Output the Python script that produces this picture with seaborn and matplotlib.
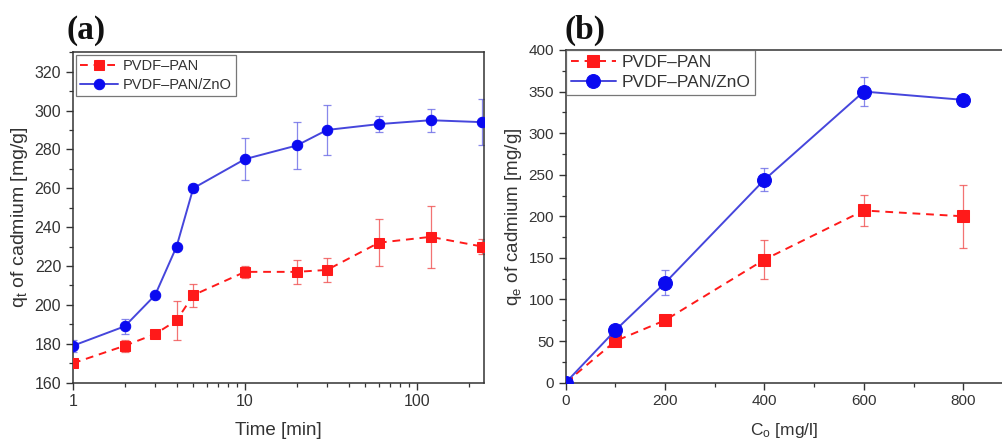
import numpy as np
import pandas as pd
import matplotlib
matplotlib.use("Agg")
import matplotlib.pyplot as plt
from matplotlib.ticker import MultipleLocator, FixedLocator, NullFormatter
import seaborn as sns

# (a) kinetics: adsorbed cadmium vs contact time
time_min = [1, 2, 3, 4, 5, 10, 20, 30, 60, 120, 240]
qt_pan = [170, 179, 185, 192, 205, 217, 217, 218, 232, 235, 230]
qt_pan_err = [1.5, 3, 2, 10, 6, 3, 6, 6, 12, 16, 4]
qt_zno = [179, 189, 205, 230, 260, 275, 282, 290, 293, 295, 294]
qt_zno_err = [3, 4, 1.5, 1.5, 2, 11, 12, 13, 4, 6, 12]

# (b) isotherm: adsorbed cadmium vs initial concentration
conc = [0, 100, 200, 400, 600, 800]
qe_pan = [0, 50, 75, 148, 207, 200]
qe_pan_err = [0, 2, 3, 23, 19, 38]
qe_zno = [0, 63, 120, 244, 350, 340]
qe_zno_err = [0, 3, 15, 14, 17, 6]

series_names = ["PVDF\u2013PAN", "PVDF\u2013PAN/ZnO"]

sns.set_theme(style="ticks")
plt.rcParams["font.family"] = ["Liberation Sans", "DejaVu Sans"]
plt.rcParams["mathtext.fontset"] = "custom"
plt.rcParams["mathtext.rm"] = "Liberation Sans"
plt.rcParams["mathtext.it"] = "Liberation Sans"

RED = "#ff1a1a"
BLUE = "#0a0af0"
BLUE_LINE = "#4646dc"
INK = "#333333"

df_a = pd.DataFrame({
    "x": time_min * 2,
    "q": qt_pan + qt_zno,
    "err": qt_pan_err + qt_zno_err,
    "series": [series_names[0]] * len(time_min) + [series_names[1]] * len(time_min),
})
df_b = pd.DataFrame({
    "x": conc * 2,
    "q": qe_pan + qe_zno,
    "err": qe_pan_err + qe_zno_err,
    "series": [series_names[0]] * len(conc) + [series_names[1]] * len(conc),
})

fig = plt.figure(figsize=(10.03, 4.46), dpi=100)
ax_a = fig.add_axes([0.0728, 0.142, 0.4097, 0.741])
ax_b = fig.add_axes([0.564, 0.142, 0.436, 0.746])


def draw_panel(ax, df, msq, mci, lw):
    styles = {
        series_names[0]: dict(color=RED, lcolor=RED, ls=(0, (4, 3)), marker="s", ms=msq, ecol="#f05050"),
        series_names[1]: dict(color=BLUE, lcolor=BLUE_LINE, ls="-", marker="o", ms=mci, ecol="#6a6ae6"),
    }
    for name in series_names:
        st = styles[name]
        sub = df[df["series"] == name]
        ax.errorbar(sub["x"], sub["q"], yerr=sub["err"], fmt="none",
                    ecolor=st["ecol"], elinewidth=0.9, capsize=3, capthick=0.9,
                    alpha=0.8, zorder=2)
        sns.lineplot(data=sub, x="x", y="q", ax=ax, color=st["lcolor"],
                     linestyle=st["ls"], linewidth=lw, marker=st["marker"],
                     markersize=st["ms"], markerfacecolor=st["color"],
                     markeredgecolor=st["color"], label=name, zorder=3,
                     errorbar=None, sort=False)


draw_panel(ax_a, df_a, 7, 7.5, 1.4)
draw_panel(ax_b, df_b, 9, 10, 1.4)

# panel (a) axes
ax_a.set_xscale("log")
ax_a.set_xlim(1, 245)
ax_a.set_ylim(160, 330)
ax_a.yaxis.set_major_locator(MultipleLocator(20))
ax_a.yaxis.set_minor_locator(MultipleLocator(10))
ax_a.set_xticks([1, 10, 100])
ax_a.set_xticklabels(["1", "10", "100"])
minor_a = [m * d for d in (1, 10, 100) for m in range(2, 10) if m * d <= 245]
ax_a.xaxis.set_minor_locator(FixedLocator(minor_a))
ax_a.xaxis.set_minor_formatter(NullFormatter())
ax_a.set_xlabel("Time [min]", fontsize=13.5, labelpad=9)
ax_a.set_ylabel("q$_{t}$ of cadmium [mg/g]", fontsize=14, labelpad=3)

# panel (b) axes
ax_b.set_xlim(0, 880)
ax_b.set_ylim(0, 400)
ax_b.xaxis.set_major_locator(MultipleLocator(200))
ax_b.xaxis.set_minor_locator(MultipleLocator(100))
ax_b.yaxis.set_major_locator(MultipleLocator(50))
ax_b.yaxis.set_minor_locator(MultipleLocator(25))
ax_b.set_xlabel("C$_{o}$ [mg/l]", fontsize=12.5, labelpad=9)
ax_b.set_ylabel("q$_{e}$ of cadmium [mg/g]", fontsize=13.5, labelpad=3)
ax_b.spines["right"].set_visible(False)

for ax, ls in ((ax_a, 11.5), (ax_b, 11)):
    for sp in ax.spines.values():
        sp.set_color(INK)
        sp.set_linewidth(1.1)
    ax.tick_params(axis="both", which="major", direction="out", length=5,
                   width=1, labelsize=ls, colors=INK, labelcolor=INK)
    ax.tick_params(axis="both", which="minor", direction="out", length=3, width=0.9,
                   colors=INK)
    ax.xaxis.label.set_color(INK)
    ax.yaxis.label.set_color(INK)

leg_a = ax_a.legend(loc="upper left", fontsize=10.5, frameon=True, fancybox=False,
                    borderaxespad=0.2, handlelength=2.6, borderpad=0.3,
                    labelspacing=0.3, handletextpad=0.3)
leg_b = ax_b.legend(loc="upper left", fontsize=12.5, frameon=True, fancybox=False,
                    borderaxespad=0.0, handlelength=2.6, borderpad=0.3,
                    labelspacing=0.25, handletextpad=0.3)
for leg in (leg_a, leg_b):
    leg.get_frame().set_edgecolor("#555555")
    leg.get_frame().set_linewidth(0.9)
    for t in leg.get_texts():
        t.set_color(INK)

fig.text(0.066, 0.912, "(a)", fontsize=24, fontweight="bold", family="Liberation Serif",
         color="#111111")
fig.text(0.563, 0.912, "(b)", fontsize=24, fontweight="bold", family="Liberation Serif",
         color="#111111")

fig.savefig("out.png", dpi=100, facecolor="white")
